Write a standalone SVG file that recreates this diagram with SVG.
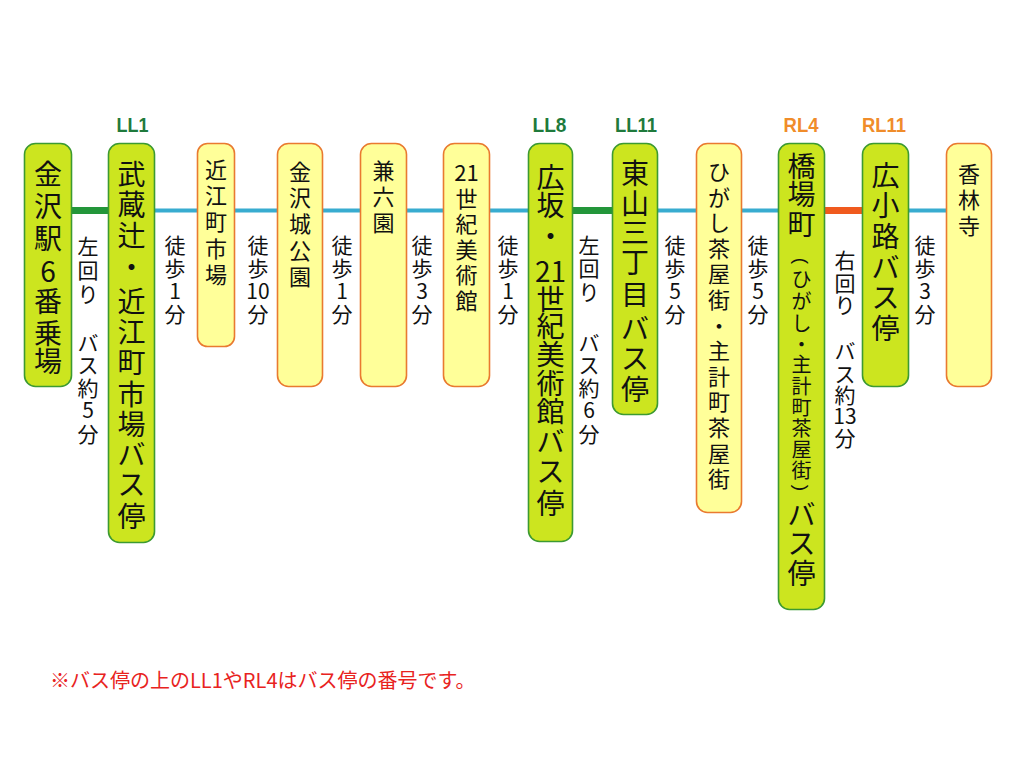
<svg xmlns="http://www.w3.org/2000/svg" width="1024" height="768" viewBox="0 0 1024 768">
<style>
.bus{fill:#cce51f;stroke:#3c9a32;stroke-width:1.6}
.spot{fill:#ffff99;stroke:#e97a30;stroke-width:1.6}
.t{font-family:"Noto Sans CJK JP","Noto Sans CJK SC",sans-serif;text-anchor:middle;dominant-baseline:central;fill:#111}
.tb{font-size:28px}
.ts{font-size:22px}
.tp{font-size:20px}
.tw{font-size:21px}
.par{font-family:"Liberation Sans",sans-serif;font-size:19px;text-anchor:middle;dominant-baseline:central;fill:#111}
.num{font-family:"Liberation Sans",sans-serif;font-weight:bold;font-size:19.5px;text-anchor:middle;dominant-baseline:central}
.ll{fill:#1f7a3c}
.rl{fill:#f08c2a}
.lg{stroke:#23963a;stroke-width:7;fill:none}
.lb{stroke:#38acd0;stroke-width:4;fill:none}
.lo{stroke:#f05a1e;stroke-width:7;fill:none}
.note{font-family:"Noto Sans CJK JP",sans-serif;font-size:20px;fill:#e8231e}
</style>
<rect width="1024" height="768" fill="#ffffff"/>
<g id="connectors">
<line class="lg" x1="70" y1="210.5" x2="110" y2="210.5"/>
<line class="lb" x1="154" y1="210.5" x2="198" y2="210.5"/>
<line class="lb" x1="234" y1="210.5" x2="278" y2="210.5"/>
<line class="lb" x1="322" y1="210.5" x2="361" y2="210.5"/>
<line class="lb" x1="406" y1="210.5" x2="444" y2="210.5"/>
<line class="lb" x1="489" y1="210.5" x2="529" y2="210.5"/>
<line class="lg" x1="572" y1="210.5" x2="613" y2="210.5"/>
<line class="lb" x1="657" y1="210.5" x2="697" y2="210.5"/>
<line class="lb" x1="741" y1="210.5" x2="779" y2="210.5"/>
<line class="lo" x1="824" y1="210.5" x2="863" y2="210.5"/>
<line class="lb" x1="908" y1="210.5" x2="947" y2="210.5"/>
</g>
<g id="edge-labels" class="t tw">
<text><tspan x="88" y="245">左</tspan><tspan x="88" y="269">回</tspan><tspan x="88" y="293">り</tspan><tspan x="88" y="317">　</tspan><tspan x="88" y="342">バ</tspan><tspan x="88" y="364">ス</tspan><tspan x="88" y="387">約</tspan><tspan x="88" y="409">5</tspan><tspan x="88" y="433">分</tspan></text>
<text><tspan x="175" y="244">徒</tspan><tspan x="175" y="267">歩</tspan><tspan x="175" y="290">1</tspan><tspan x="175" y="313">分</tspan></text>
<text><tspan x="258" y="244">徒</tspan><tspan x="258" y="267">歩</tspan><tspan x="258" y="290">10</tspan><tspan x="258" y="313">分</tspan></text>
<text><tspan x="342" y="244">徒</tspan><tspan x="342" y="267">歩</tspan><tspan x="342" y="290">1</tspan><tspan x="342" y="313">分</tspan></text>
<text><tspan x="422" y="244">徒</tspan><tspan x="422" y="267">歩</tspan><tspan x="422" y="290">3</tspan><tspan x="422" y="313">分</tspan></text>
<text><tspan x="508" y="244">徒</tspan><tspan x="508" y="267">歩</tspan><tspan x="508" y="290">1</tspan><tspan x="508" y="313">分</tspan></text>
<text><tspan x="589" y="244">左</tspan><tspan x="589" y="267">回</tspan><tspan x="589" y="291">り</tspan><tspan x="589" y="317">　</tspan><tspan x="589" y="342">バ</tspan><tspan x="589" y="364">ス</tspan><tspan x="589" y="387">約</tspan><tspan x="589" y="409">6</tspan><tspan x="589" y="433">分</tspan></text>
<text><tspan x="675" y="244">徒</tspan><tspan x="675" y="267">歩</tspan><tspan x="675" y="290">5</tspan><tspan x="675" y="313">分</tspan></text>
<text><tspan x="758" y="244">徒</tspan><tspan x="758" y="267">歩</tspan><tspan x="758" y="290">5</tspan><tspan x="758" y="313">分</tspan></text>
<text><tspan x="845" y="259">右</tspan><tspan x="845" y="282">回</tspan><tspan x="845" y="304">り</tspan><tspan x="845" y="327">　</tspan><tspan x="845" y="350">バ</tspan><tspan x="845" y="373">ス</tspan><tspan x="845" y="394">約</tspan><tspan x="845" y="415">13</tspan><tspan x="845" y="437">分</tspan></text>
<text><tspan x="925" y="244">徒</tspan><tspan x="925" y="267">歩</tspan><tspan x="925" y="290">3</tspan><tspan x="925" y="313">分</tspan></text>
</g>
<g id="n1">
<rect class="bus" x="24.5" y="143.5" width="47" height="243" rx="11"/>
<text class="t tb"><tspan x="48" y="173">金</tspan><tspan x="48" y="205">沢</tspan><tspan x="48" y="237">駅</tspan><tspan x="48" y="270">6</tspan><tspan x="48" y="300">番</tspan><tspan x="48" y="332">乗</tspan><tspan x="48" y="360">場</tspan></text>
</g>
<g id="n2">
<text class="num ll" x="132.5" y="125" textLength="32" lengthAdjust="spacingAndGlyphs">LL1</text>
<rect class="bus" x="108.5" y="143.5" width="46" height="399" rx="11"/>
<text class="t tb"><tspan x="131.5" y="173">武</tspan><tspan x="131.5" y="203">蔵</tspan><tspan x="131.5" y="234">辻</tspan><tspan x="131.5" y="266">・</tspan><tspan x="131.5" y="300">近</tspan><tspan x="131.5" y="331">江</tspan><tspan x="131.5" y="361">町</tspan><tspan x="131.5" y="393">市</tspan><tspan x="131.5" y="423">場</tspan><tspan x="131.5" y="453">バ</tspan><tspan x="131.5" y="483">ス</tspan><tspan x="131.5" y="515">停</tspan></text>
</g>
<g id="n3">
<rect class="spot" x="197.5" y="143.5" width="37" height="203" rx="10"/>
<text class="t ts"><tspan x="216" y="168">近</tspan><tspan x="216" y="194">江</tspan><tspan x="216" y="220">町</tspan><tspan x="216" y="247">市</tspan><tspan x="216" y="273">場</tspan></text>
</g>
<g id="n4">
<rect class="spot" x="277.5" y="143.5" width="45" height="243" rx="11"/>
<text class="t ts"><tspan x="300" y="170">金</tspan><tspan x="300" y="196">沢</tspan><tspan x="300" y="222">城</tspan><tspan x="300" y="249">公</tspan><tspan x="300" y="275">園</tspan></text>
</g>
<g id="n5">
<rect class="spot" x="360.5" y="143.5" width="46" height="243" rx="11"/>
<text class="t ts"><tspan x="383.5" y="169">兼</tspan><tspan x="383.5" y="195">六</tspan><tspan x="383.5" y="221">園</tspan></text>
</g>
<g id="n6">
<rect class="spot" x="443.5" y="143.5" width="46" height="243" rx="11"/>
<text class="t ts"><tspan x="466.5" y="171">21</tspan><tspan x="466.5" y="197">世</tspan><tspan x="466.5" y="222">紀</tspan><tspan x="466.5" y="248">美</tspan><tspan x="466.5" y="273">術</tspan><tspan x="466.5" y="299">館</tspan></text>
</g>
<g id="n7">
<text class="num ll" x="549.5" y="125" textLength="34" lengthAdjust="spacingAndGlyphs">LL8</text>
<rect class="bus" x="528.5" y="143.5" width="44" height="398" rx="11"/>
<text class="t tb"><tspan x="550.5" y="176">広</tspan><tspan x="550.5" y="204">坂</tspan><tspan x="550.5" y="235">・</tspan><tspan x="550.5" y="270">21</tspan><tspan x="550.5" y="298">世</tspan><tspan x="550.5" y="325">紀</tspan><tspan x="550.5" y="353">美</tspan><tspan x="550.5" y="382">術</tspan><tspan x="550.5" y="410">館</tspan><tspan x="550.5" y="440">バ</tspan><tspan x="550.5" y="470">ス</tspan><tspan x="550.5" y="502">停</tspan></text>
</g>
<g id="n8">
<text class="num ll" x="636" y="125" textLength="42" lengthAdjust="spacingAndGlyphs">LL11</text>
<rect class="bus" x="612.5" y="143.5" width="45" height="271" rx="11"/>
<text class="t tb"><tspan x="635" y="172">東</tspan><tspan x="635" y="202">山</tspan><tspan x="635" y="231">三</tspan><tspan x="635" y="261">丁</tspan><tspan x="635" y="293">目</tspan><tspan x="635" y="327">バ</tspan><tspan x="635" y="357">ス</tspan><tspan x="635" y="388">停</tspan></text>
</g>
<g id="n9">
<rect class="spot" x="696.5" y="143.5" width="45" height="369" rx="11"/>
<text class="t ts"><tspan x="719" y="170">ひ</tspan><tspan x="719" y="195.6">が</tspan><tspan x="719" y="221.2">し</tspan><tspan x="719" y="246.8">茶</tspan><tspan x="719" y="272.4">屋</tspan><tspan x="719" y="298">街</tspan><tspan x="719" y="323.6">・</tspan><tspan x="719" y="349.2">主</tspan><tspan x="719" y="374.8">計</tspan><tspan x="719" y="400.4">町</tspan><tspan x="719" y="426">茶</tspan><tspan x="719" y="451.6">屋</tspan><tspan x="719" y="477">街</tspan></text>
</g>
<g id="n10">
<text class="num rl" x="801" y="125" textLength="35" lengthAdjust="spacingAndGlyphs">RL4</text>
<rect class="bus" x="778.5" y="143.5" width="46" height="466" rx="11"/>
<text class="t tb"><tspan x="801.5" y="165">橋</tspan><tspan x="801.5" y="193">場</tspan><tspan x="801.5" y="223">町</tspan></text>
<text class="par" x="801.5" y="261" transform="rotate(90 801.5 261)">(</text>
<text class="t tp"><tspan x="801.5" y="278">ひ</tspan><tspan x="801.5" y="300">が</tspan><tspan x="801.5" y="322">し</tspan><tspan x="801.5" y="343">・</tspan><tspan x="801.5" y="363">主</tspan><tspan x="801.5" y="385">計</tspan><tspan x="801.5" y="406">町</tspan><tspan x="801.5" y="427">茶</tspan><tspan x="801.5" y="448">屋</tspan><tspan x="801.5" y="469">街</tspan></text>
<text class="par" x="801.5" y="488" transform="rotate(90 801.5 488)">)</text>
<text class="t tb"><tspan x="801.5" y="513">バ</tspan><tspan x="801.5" y="542">ス</tspan><tspan x="801.5" y="572">停</tspan></text>
</g>
<g id="n11">
<text class="num rl" x="884" y="125" textLength="44" lengthAdjust="spacingAndGlyphs">RL11</text>
<rect class="bus" x="862.5" y="143.5" width="46" height="243" rx="11"/>
<text class="t tb"><tspan x="885.5" y="174">広</tspan><tspan x="885.5" y="204">小</tspan><tspan x="885.5" y="235">路</tspan><tspan x="885.5" y="266">バ</tspan><tspan x="885.5" y="296">ス</tspan><tspan x="885.5" y="327">停</tspan></text>
</g>
<g id="n12">
<rect class="spot" x="946.5" y="143.5" width="45" height="243" rx="11"/>
<text class="t ts"><tspan x="969" y="172">香</tspan><tspan x="969" y="198">林</tspan><tspan x="969" y="224">寺</tspan></text>
</g>
<text class="note" x="50" y="688">※バス停の上のLL1やRL4はバス停の番号です。</text>
</svg>
